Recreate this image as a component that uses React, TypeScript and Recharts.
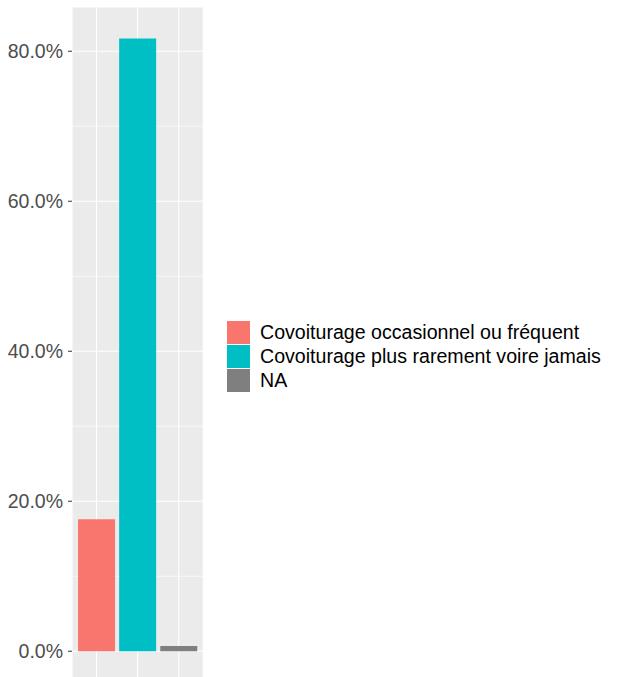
import { Bar, BarChart, CartesianGrid, Cell, XAxis, YAxis } from 'recharts'

const categories = ['Covoiturage occasionnel ou fréquent', 'Covoiturage plus rarement voire jamais', 'NA']
const shares = [17.6, 81.7, 0.7]
const colors = ['#F8766D', '#00BFC4', '#7F7F7F']
const yTicks = [0, 20, 40, 60, 80]
const minorTicks = [10, 30, 50, 70]

const data = categories.map((name, i) => ({ name, value: shares[i] }))

const font = '"Liberation Sans", Arial, sans-serif'

// x labels sit below the visible area in the reference, so draw nothing
const NoTick = () => <g />

export default function App() {
  return (
    <div style={{ position: 'fixed', left: 0, top: 0, width: 620, height: 677, overflow: 'hidden', background: '#fff', fontFamily: font }}>
      <BarChart
        width={620}
        height={700}
        data={data}
        margin={{ top: 7, right: 416.7, bottom: 17, left: 0 }}
        barCategoryGap="5%"
      >
        <CartesianGrid fill="#EBEBEB" stroke="#FFFFFF" strokeWidth={0.6} vertical={false} horizontalValues={minorTicks} />
        <CartesianGrid stroke="#FFFFFF" strokeWidth={1.1} fill="none" />
        <XAxis
          dataKey="name"
          height={1}
          interval={0}
          tick={<NoTick />}
          tickLine={false}
          axisLine={false}
          padding={{ left: 4, right: 4 }}
        />
        <YAxis
          width={72}
          type="number"
          domain={[-4.1, 85.9]}
          allowDataOverflow
          ticks={yTicks}
          tickFormatter={(v: number) => `${v.toFixed(1)}%`}
          axisLine={false}
          tickSize={4}
          tickMargin={5}
          tickLine={{ stroke: '#333333' }}
          tick={{ fill: '#4D4D4D', fontSize: 19.5, fontFamily: font }}
        />
        <Bar dataKey="value" isAnimationActive={false}>
          {data.map((d, i) => (
            <Cell key={d.name} fill={colors[i]} />
          ))}
        </Bar>
      </BarChart>
      <div style={{ position: 'absolute', left: 227, top: 320 }}>
        {categories.map((c, i) => (
          <div key={c} style={{ display: 'flex', alignItems: 'center', height: 24 }}>
            <div style={{ width: 23, height: 23, background: colors[i], marginRight: 10 }} />
            <span style={{ fontSize: 19.6, color: '#000', whiteSpace: 'nowrap' }}>{c}</span>
          </div>
        ))}
      </div>
    </div>
  )
}
